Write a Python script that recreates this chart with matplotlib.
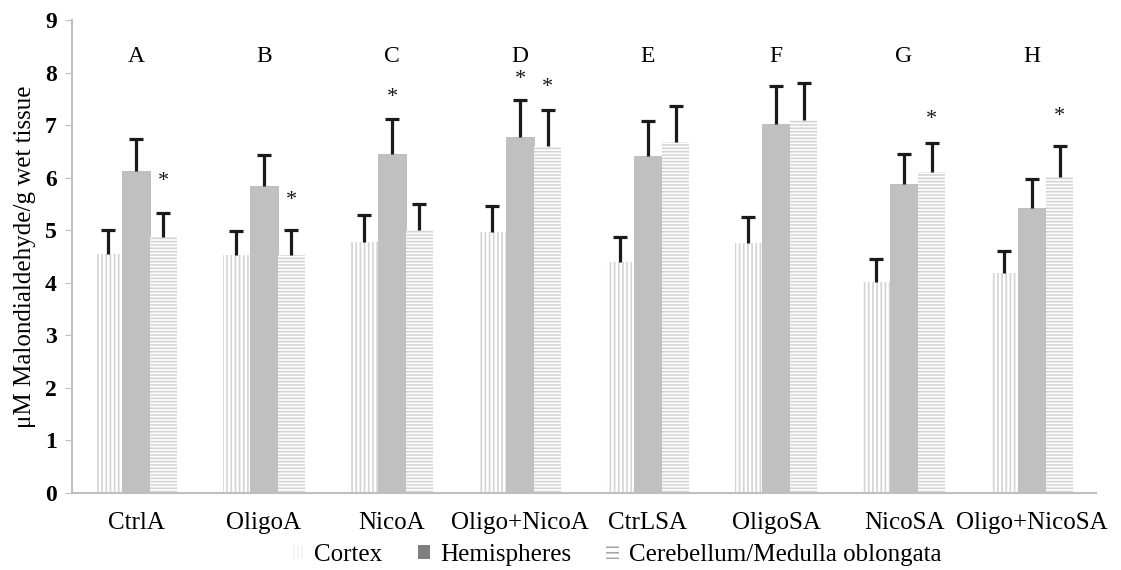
import matplotlib.pyplot as plt
from matplotlib.patches import Patch
import numpy as np

plt.rcParams['font.family'] = ['Liberation Serif', 'DejaVu Serif']
plt.rcParams['hatch.linewidth'] = 1.2

groups = ["CtrlA", "OligoA", "NicoA", "Oligo+NicoA", "CtrLSA", "OligoSA", "NicoSA", "Oligo+NicoSA"]
letters = ["A", "B", "C", "D", "E", "F", "G", "H"]

cortex = [4.55, 4.53, 4.78, 4.97, 4.40, 4.75, 4.02, 4.18]
cortex_err = [0.45, 0.45, 0.50, 0.50, 0.48, 0.50, 0.43, 0.42]
hemi = [6.13, 5.85, 6.45, 6.78, 6.42, 7.03, 5.87, 5.42]
hemi_err = [0.60, 0.58, 0.67, 0.69, 0.66, 0.72, 0.58, 0.55]
cereb = [4.87, 4.52, 5.00, 6.60, 6.68, 7.10, 6.10, 6.02]
cereb_err = [0.46, 0.48, 0.50, 0.68, 0.69, 0.70, 0.55, 0.58]

# stars: (group index, series index 1=hemi 2=cereb, y)
stars = [(0, 2, 5.92), (1, 2, 5.57), (2, 1, 7.53), (3, 1, 7.86), (3, 2, 7.72),
         (6, 2, 7.10), (7, 2, 7.17)]

fig = plt.figure(figsize=(11.21, 5.70), dpi=100)
ax = fig.add_axes([0.0642, 0.135, 0.9135, 0.83])

x = np.arange(len(groups))
w = 0.215
offs = [-w, 0, w]

ax.bar(x + offs[0], cortex, w, color='white', edgecolor='#d4d4d4', hatch='||||', linewidth=0)
ax.bar(x + offs[1], hemi, w, color='#c0c0c0', edgecolor='#b8b8b8', linewidth=0.6)
ax.bar(x + offs[2], cereb, w, color='white', edgecolor='#d4d4d4', hatch='-----', linewidth=0)

# upper error bars only, cap on top
for vals, errs, o in [(cortex, cortex_err, offs[0]), (hemi, hemi_err, offs[1]), (cereb, cereb_err, offs[2])]:
    vals = np.array(vals)
    errs = np.array(errs)
    ax.vlines(x + o, vals, vals + errs, color='#1a1a1a', linewidth=2.3)
    ax.plot(x + o, vals + errs, ls='none', marker='_', markersize=10, mew=2.3, color='#1a1a1a')

for gi, si, yv in stars:
    ax.text(x[gi] + offs[si], yv, '*', ha='center', va='center', fontsize=16, color='#1a1a1a')

for i, l in enumerate(letters):
    ax.text(x[i], 8.3, l, ha='center', va='center', fontsize=17)

ax.set_xlim(-0.5, len(groups) - 0.5)
ax.set_ylim(0, 9)
ax.set_yticks(range(10))
ax.set_xticks(x)
ax.set_xticklabels(groups, fontsize=18)
ax.tick_params(axis='x', length=0, pad=14)
ax.tick_params(axis='y', length=5, color='#bfbfbf', labelsize=17, pad=6)
for t in ax.get_yticklabels():
    t.set_fontweight('bold')
ax.set_ylabel('μM Malondialdehyde/g wet tissue', fontsize=18, labelpad=6)

for s in ['top', 'right']:
    ax.spines[s].set_visible(False)
ax.spines['left'].set_color('#bfbfbf')
ax.spines['left'].set_linewidth(1.5)
ax.spines['bottom'].set_color('#bfbfbf')
ax.spines['bottom'].set_linewidth(1.5)

handles = [
    Patch(facecolor='white', edgecolor='#f2f2f2', hatch='||||', linewidth=0, label='Cortex'),
    Patch(facecolor='#7f7f7f', linewidth=0, label='Hemispheres'),
    Patch(facecolor='white', edgecolor='#a6a6a6', hatch='---', linewidth=0, label='Cerebellum/Medulla oblongata'),
]
fig.legend(handles=handles, loc='center', bbox_to_anchor=(0.55, 0.026), ncol=3,
           frameon=False, fontsize=18, handlelength=0.5, handleheight=0.5,
           handletextpad=0.4, columnspacing=1.4)

fig.savefig('out.png', dpi=100)
